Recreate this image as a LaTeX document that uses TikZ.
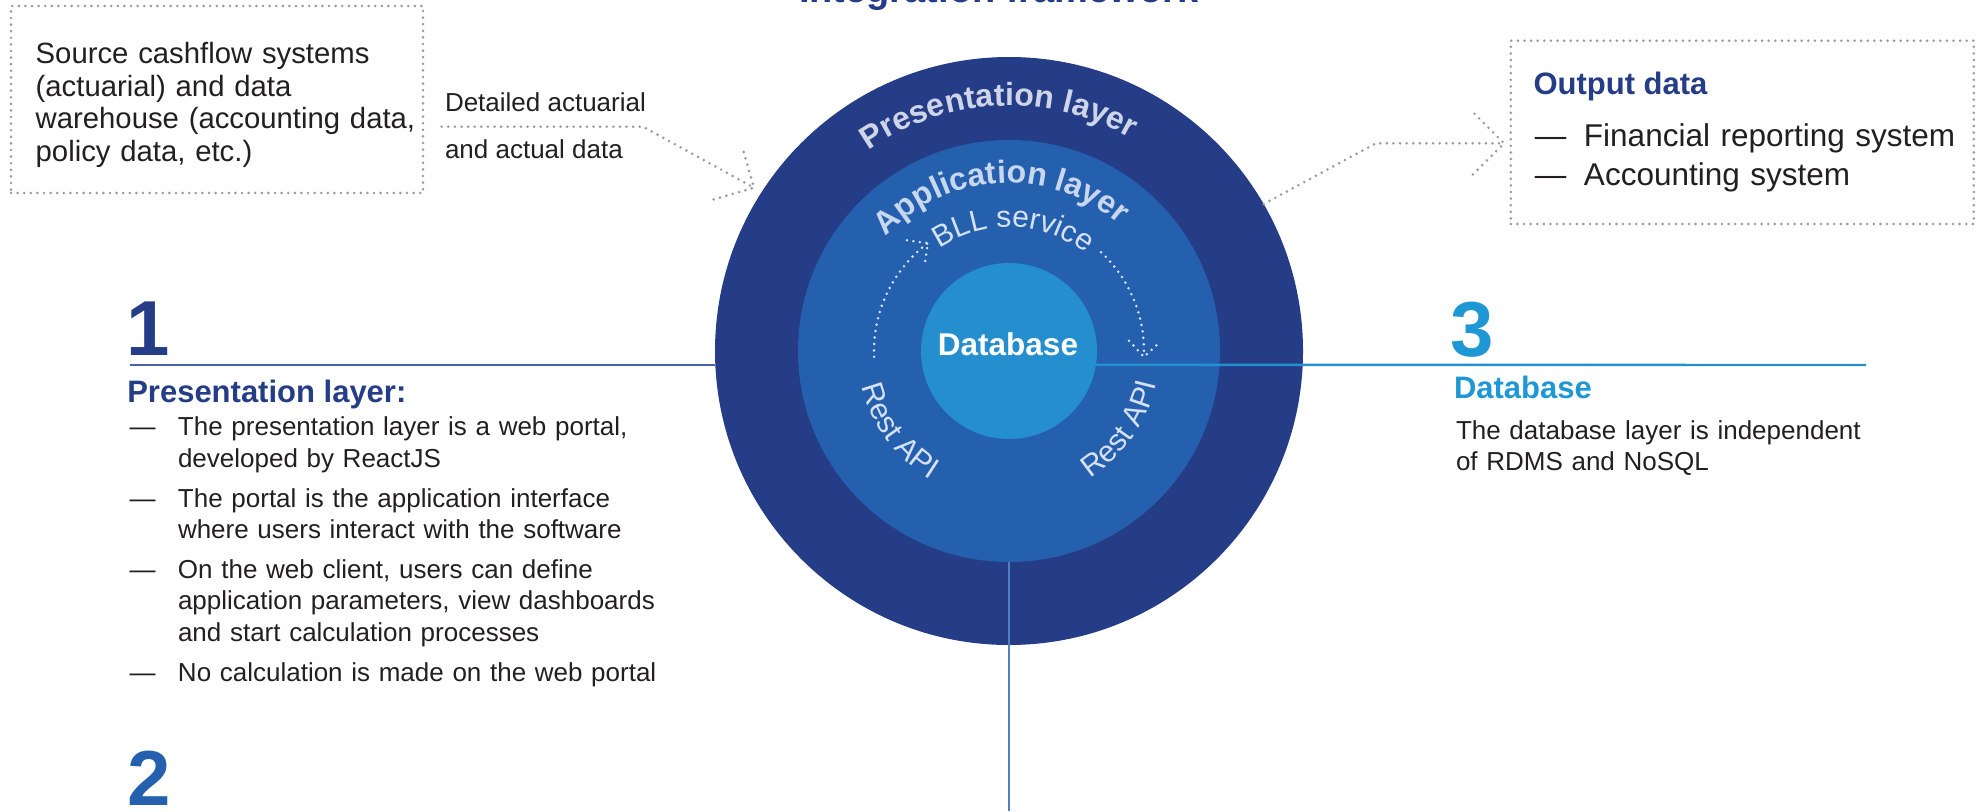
\documentclass[tikz,border=0pt]{standalone}
\usepackage{fontspec}
\setmainfont{Liberation Sans}
\usetikzlibrary{decorations.text,calc}
\definecolor{navy}{HTML}{253D87}
\definecolor{appblue}{HTML}{2460AE}
\definecolor{dbblue}{HTML}{248ECF}
\definecolor{numthree}{HTML}{1F97D5}
\definecolor{lineone}{HTML}{4A62AE}
\definecolor{linetwo}{HTML}{4F80C4}
\definecolor{linethree}{HTML}{2590D0}
\definecolor{bodyc}{HTML}{231F20}
\definecolor{cDotGrey}{HTML}{9C9C9C}
\definecolor{cDotWhite}{HTML}{DCE5F4}
\definecolor{lavtext}{HTML}{CFD5E9}
\definecolor{apptext}{HTML}{C8D6EE}
\definecolor{thintext}{HTML}{D6E1F3}
\newcommand\presfmt{\bfseries\fontsize{32}{32}\selectfont\color{lavtext}}
\newcommand\appfmt{\bfseries\fontsize{32}{32}\selectfont\color{apptext}}
\newcommand\thinfmt{\fontsize{30}{30}\selectfont\color{thintext}}
\begin{document}
\begin{tikzpicture}[x=1pt,y=1pt,
  dotgrey/.style={draw=cDotGrey, line width=2.9pt, dash pattern=on 0pt off 6.6pt, line cap=round},
  dotlight/.style={draw=cDotWhite, line width=2.8pt, dash pattern=on 0pt off 6.5pt, line cap=round},
  bodytext/.style={inner sep=0pt, outer sep=0pt, text=bodyc, font=\fontsize{26}{31.6}\selectfont, align=left},
  heading/.style={inner sep=0pt, outer sep=0pt, font=\bfseries\fontsize{31}{31}\selectfont},
  bignum/.style={inner sep=0pt, outer sep=0pt, font=\bfseries\fontsize{78}{78}\selectfont},
  ring/.style={circle, inner sep=0pt, outer sep=0pt, draw=none},
  dbox/.style={dotgrey, inner sep=0pt, outer sep=0pt, rectangle}
]
\useasboundingbox (0,0) rectangle (1977,-811);

% title (cut off by page edge)
\node[inner sep=0pt, anchor=base west, font=\bfseries\fontsize{38}{38}\selectfont, text=navy] (title) at (799,-2) {Integration framework};

% rings
\node[ring, fill=navy, minimum size=588pt] (outer) at (1009,-351) {};
\node[ring, fill=appblue, minimum size=422pt] (app) at (1009,-351) {};
\node[ring, fill=dbblue, minimum size=176pt] (db) at (1009,-351) {};
\node[inner sep=0pt, anchor=base, text=white, font=\bfseries\fontsize{31.5}{31.5}\selectfont] (dblabel) at (1008,-355) {Database};

% curved labels
\path[decorate, decoration={text along path, text={|\presfmt|Presentation layer}, text align=center}]
  ($(outer.center)+(160:245)$) arc[start angle=160, end angle=25.2, radius=245];
\path[decorate, decoration={text along path, text={|\appfmt|Application layer}, text align=center}]
  ($(app.center)+(160:168)$) arc[start angle=160, end angle=26, radius=168];
\path[decorate, decoration={text along path, text={|\thinfmt|BLL service}, text align=center}]
  ($(db.center)+(150:124)$) arc[start angle=150, end angle=26, radius=124];
\path[decorate, decoration={text along path, text={|\thinfmt|Rest API}, text align=center}]
  ($(db.center)+(180:151)$) arc[start angle=180, end angle=252, radius=151];
\path[decorate, decoration={text along path, text={|\thinfmt|Rest API}, text align=center}]
  ($(db.center)+(289:151)$) arc[start angle=289, end angle=361, radius=151];

% dotted arrows inside application ring
\coordinate (la0) at ($(db.center)+(182.5:135)$);
\coordinate (latip) at ($(db.center)+(127:135)$);
\draw[dotlight] (la0) arc[start angle=182.5, end angle=127, radius=135];
\draw[dotlight] ($(latip)+(172:21)$) -- (latip) -- ($(latip)+(262:21)$);
\coordinate (ra0) at ($(db.center)+(47:135)$);
\coordinate (ratip) at ($(db.center)+(-2.5:135)$);
\draw[dotlight] (ra0) arc[start angle=47, end angle=-2.5, radius=135];
\draw[dotlight] ($(ratip)+(132.5:22)$) -- (ratip) -- ($(ratip)+(42.5:22)$);

% leader lines
\coordinate (l1start) at (129.5,-365);
\draw[lineone, line width=2.4pt] (l1start) -- (l1start -| outer.west);
\coordinate (l3end) at (1866,-365);
\draw[linethree, line width=2.4pt] (db.-9.15) -- (l3end);
\coordinate (l2end) at (1009,-811);
\draw[linetwo, line width=2.2pt] (app.south) -- (l2end);

% source box
\node[dbox, minimum width=412pt, minimum height=187pt, anchor=north west] (src) at (11,-6) {};
\node[bodytext, anchor=base west, text width=390pt, font=\fontsize{29.3}{32.8}\selectfont] (srctxt) at (35.7,-63.3)
  {Source cashflow systems\\(actuarial) and data\\warehouse (accounting data,\\policy data, etc.)};
\node[bodytext, anchor=base west] (lblA) at (445,-111) {Detailed actuarial};
\node[bodytext, anchor=base west] (lblB) at (445,-158.3) {and actual data};
\coordinate (in0) at (441.7,-126.7);
\coordinate (in1) at (643,-126.7);
\coordinate (intip) at (754,-187.7);
\draw[dotgrey] (in0) -- (in1) -- (intip);
\draw[dotgrey] ($(intip)!42pt!45:(in1)$) -- (intip) -- ($(intip)!42pt!-45:(in1)$);

% output box
\node[dbox, minimum width=463pt, minimum height=183.3pt, anchor=north west] (outbox) at (1510.8,-40.7) {};
\node[heading, text=navy, anchor=base west] (outhead) at (1533.5,-94) {Output data};
\node[bodytext, anchor=base west, text width=436pt, font=\fontsize{31.5}{38.3}\selectfont] (outtxt) at (1534.8,-146.7)
  {\makebox[49.2pt][l]{—}Financial reporting system\\\makebox[49.2pt][l]{—}Accounting system};
\coordinate (out1) at (1376,-143.3);
\coordinate (outtip) at (1504,-143.3);
\draw[dotgrey] (outer.30.6) -- (out1) -- (outtip);
\draw[dotgrey] ($(outtip)!44pt!45:(out1)$) -- (outtip) -- ($(outtip)!44pt!-45:(out1)$);

% section 1
\node[bignum, text=navy, anchor=base west] (num1) at (126,-355) {1};
\node[heading, text=navy, anchor=base west] (head1) at (127.3,-402.6) {Presentation layer:};
\node[bodytext, anchor=base west, text width=560pt] (list1) at (129.5,-435.8)
  {\makebox[48.5pt][l]{—}The presentation layer is a web portal,\\
   \hspace*{48.5pt}developed by ReactJS\\[8pt]
   \makebox[48.5pt][l]{—}The portal is the application interface\\
   \hspace*{48.5pt}where users interact with the software\\[8pt]
   \makebox[48.5pt][l]{—}On the web client, users can define\\
   \hspace*{48.5pt}application parameters, view dashboards\\
   \hspace*{48.5pt}and start calculation processes\\[8pt]
   \makebox[48.5pt][l]{—}No calculation is made on the web portal};

% section 2
\node[bignum, text=appblue, anchor=base west] (num2) at (127,-805) {2};

% section 3
\node[bignum, text=numthree, anchor=base west] (num3) at (1450.5,-356) {3};
\node[heading, text=numthree, anchor=base west] (head3) at (1454,-398) {Database};
\node[bodytext, anchor=base west, text width=420pt, font=\fontsize{26}{31}\selectfont] (txt3) at (1456,-439)
  {The database layer is independent\\of RDMS and NoSQL};
\end{tikzpicture}
\end{document}
